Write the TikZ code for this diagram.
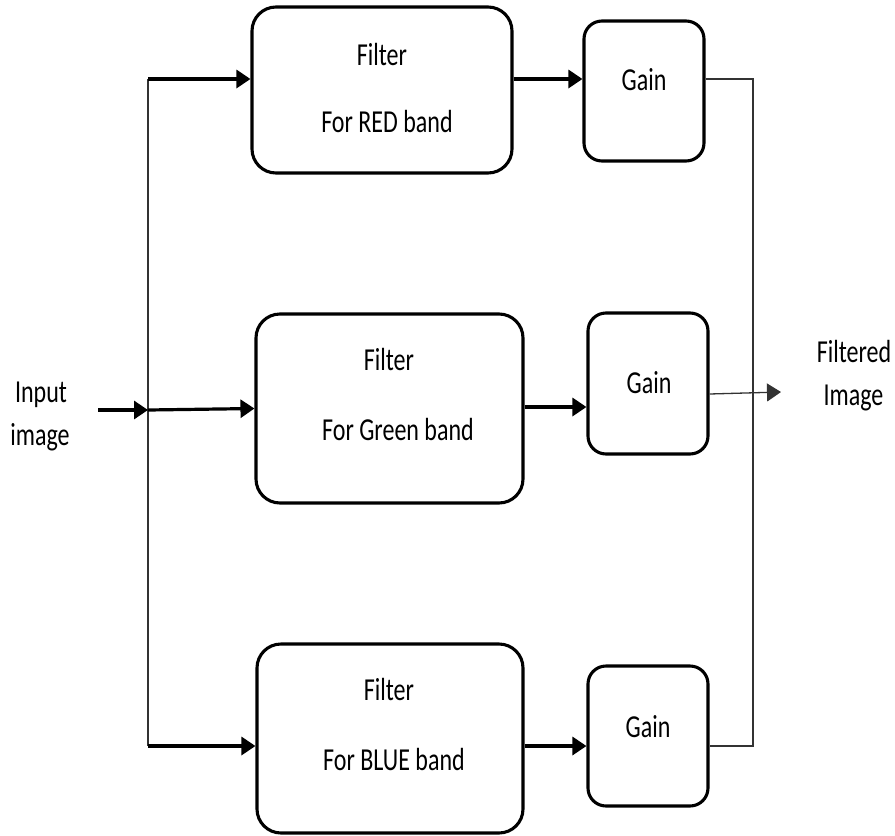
\documentclass[tikz,border=0pt]{standalone}
\usepackage{fontspec}
\setmainfont{Carlito}[FakeStretch=0.75]
\usetikzlibrary{arrows.meta}
\begin{document}
\begin{tikzpicture}[x=1pt,y=-1pt,
  fbox/.style={draw, line width=3.1pt, rounded corners=24pt, inner sep=0pt},
  gbox/.style={draw, line width=3.1pt, rounded corners=18pt, inner sep=0pt, minimum width=120pt},
  txt/.style={anchor=base, inner sep=0pt, font=\fontsize{32}{38}\selectfont},
  tip/.style={-{Triangle[length=14pt,width=18pt]}},
  arr/.style={line width=3.2pt, tip},
  thinline/.style={line width=1.3pt, draw=black!80}]
\useasboundingbox (0,0) rectangle (895,836);
% boxes
\node[fbox, minimum width=260pt, minimum height=166pt] (rf) at (382,90) {};
\node[fbox, minimum width=267pt, minimum height=189pt] (gf) at (389.5,408.5) {};
\node[fbox, minimum width=266pt, minimum height=189pt] (bf) at (390,738.5) {};
\node[gbox, minimum height=140pt] (rg) at (644,91) {};
\node[gbox, minimum height=141pt] (gg) at (648,383.5) {};
\node[gbox, minimum height=140pt] (bg) at (648,736) {};
% texts
\node[txt] (rft1) at (382,65.5) {Filter};
\node[txt] (rft2) at (387,132) {For RED band};
\node[txt] (gft1) at (389,370.5) {Filter};
\node[txt] (gft2) at (398,440.5) {For Green band};
\node[txt] (bft1) at (389,700.5) {Filter};
\node[txt] (bft2) at (394,770.5) {For BLUE band};
\node[txt] (rgt) at (644,90.5) {Gain};
\node[txt] (ggt) at (649,393.5) {Gain};
\node[txt] (bgt) at (648,737.5) {Gain};
\node[txt] (in1) at (41,402) {Input};
\node[txt] (in2) at (40,445) {image};
\node[txt] (out1) at (854,362) {Filtered};
\node[txt] (out2) at (853.5,405) {Image};
% coordinates
\coordinate (inp) at (98,410);
\coordinate (gbus) at (148,410);
\coordinate (rbus) at (148,79);
\coordinate (bbus) at (148,746);
\coordinate (gy) at (0,407);
\coordinate (rr) at (753,79);
\coordinate (oy) at (0,394);
\coordinate (outp) at (781,392);
% left bus
\draw[thinline] (rbus) -- (bbus);
\draw[arr] (inp) -- (gbus);
\draw[arr] (rbus) -- (rbus -| rf.west);
\draw[arr] (gbus) -- (gf.west);
\draw[arr] (bbus) -- (bbus -| bf.west);
% filter to gain
\draw[arr] (rf.east |- rbus) -- (rg.west |- rbus);
\draw[arr] (gf.east |- gy) -- (gg.west |- gy);
\draw[arr] (bf.east |- bbus) -- (bg.west |- bbus);
% right bus
\draw[thinline] (rg.east |- rbus) -- (rr) -- (rr |- bbus) -- (bg.east |- bbus);
\draw[thinline, tip] (gg.east |- oy) -- (outp);
\end{tikzpicture}
\end{document}
